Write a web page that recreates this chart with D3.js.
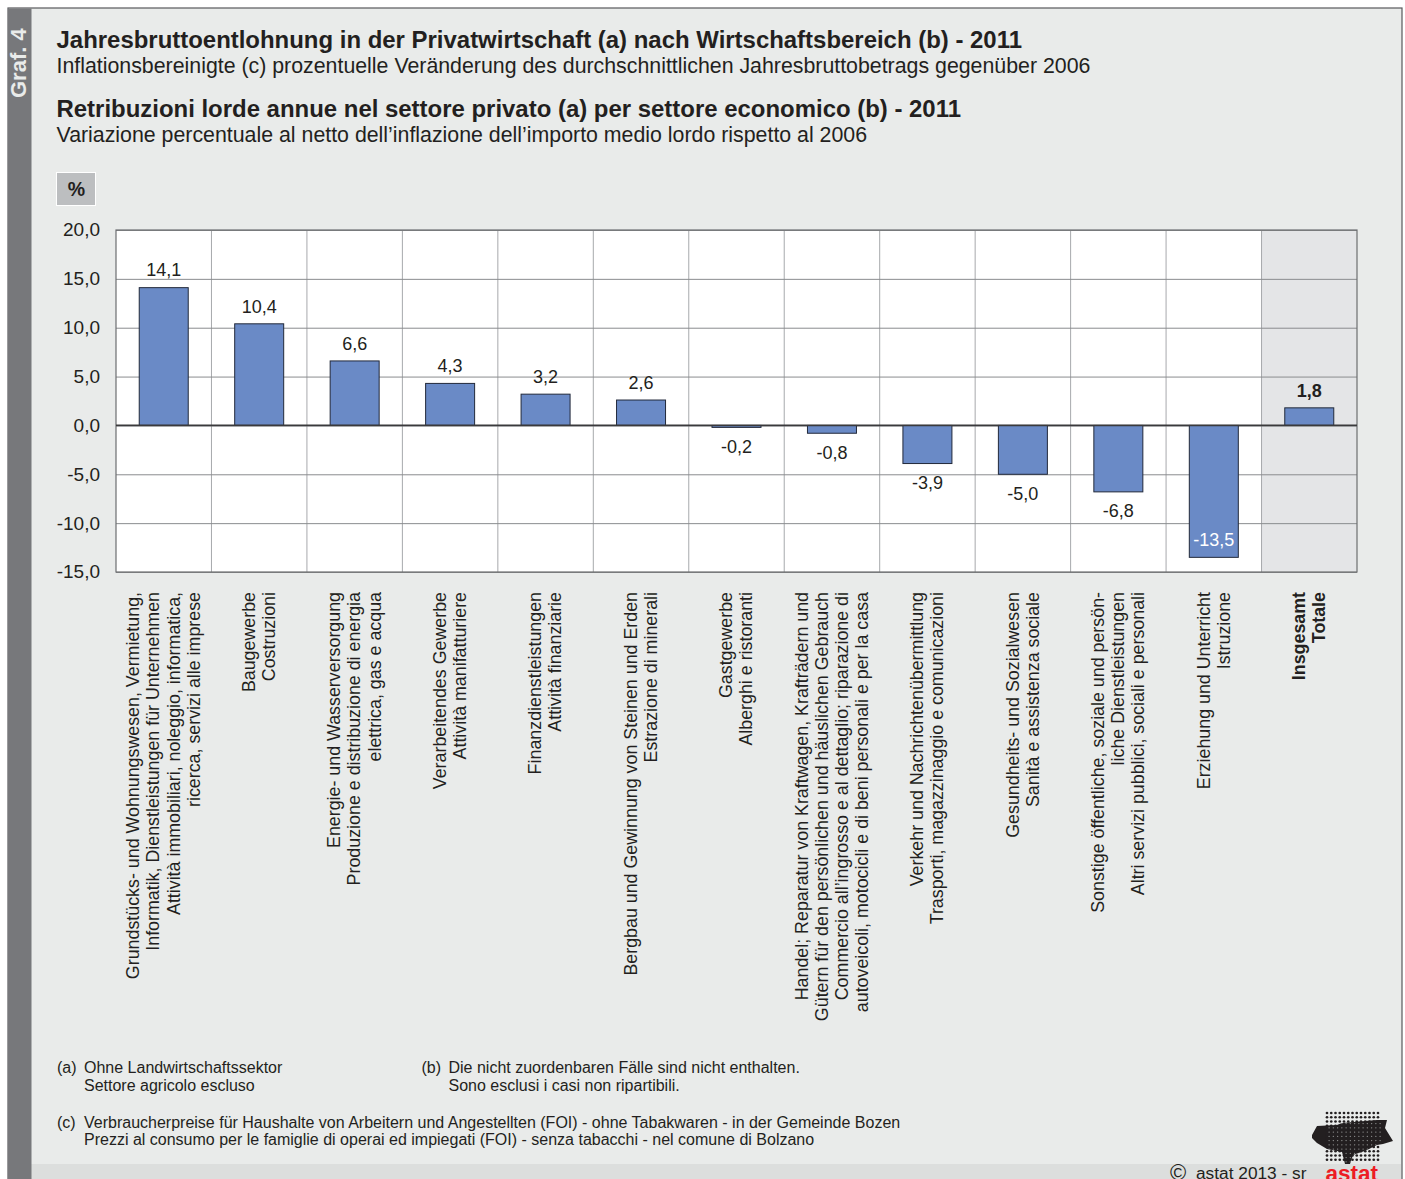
<!DOCTYPE html>
<html>
<head>
<meta charset="utf-8">
<script src="https://cdn.jsdelivr.net/npm/d3@7"></script>
<style>
html, body { margin: 0; padding: 0; background: #fff; overflow: hidden; }
svg { display: block; font-family: "Liberation Sans", Arial, sans-serif; }
</style>
</head>
<body>
<svg id="chart" width="1405" height="1179"></svg>
<script>
// chart data
const categories = [
  ['Grundstücks- und Wohnungswesen, Vermietung,', 'Informatik, Dienstleistungen für Unternehmen', 'Attività immobiliari, noleggio, informatica,', 'ricerca, servizi alle imprese'],
  ['Baugewerbe', 'Costruzioni'],
  ['Energie- und Wasserversorgung', 'Produzione e distribuzione di energia', 'elettrica, gas e acqua'],
  ['Verarbeitendes Gewerbe', 'Attività manifatturiere'],
  ['Finanzdienstleistungen', 'Attività finanziarie'],
  ['Bergbau und Gewinnung von Steinen und Erden', 'Estrazione di minerali'],
  ['Gastgewerbe', 'Alberghi e ristoranti'],
  ['Handel; Reparatur von Kraftwagen, Krafträdern und', 'Gütern für den persönlichen und häuslichen Gebrauch', 'Commercio all’ingrosso e al dettaglio; riparazione di', 'autoveicoli, motocicli e di beni personali e per la casa'],
  ['Verkehr und Nachrichtenübermittlung', 'Trasporti, magazzinaggio e comunicazioni'],
  ['Gesundheits- und Sozialwesen', 'Sanità e assistenza sociale'],
  ['Sonstige öffentliche, soziale und persön-', 'liche Dienstleistungen', 'Altri servizi pubblici, sociali e personali'],
  ['Erziehung und Unterricht', 'Istruzione'],
  ['Insgesamt', 'Totale']
]
const values = [14.1, 10.4, 6.6, 4.3, 3.2, 2.6, -0.2, -0.8, -3.9, -5.0, -6.8, -13.5, 1.8]
const yTicks = [20, 15, 10, 5, 0, -5, -10, -15]

const svg = d3.select('#chart')
// german/italian number format with a plain hyphen as in the original
const comma = d => d3.format('.1f')(Math.abs(d)).replace('.', ',').replace(/^/, d < 0 ? '-' : '')
const ink = '#231f20'

// plot area
const plot = { left: 116, right: 1357, top: 230, bottom: 572 }

const xScale = d3.scaleBand()
  .domain(d3.range(categories.length))
  .range([plot.left, plot.right])

const yScale = d3.scaleLinear()
  .domain([-15, 20])
  .range([plot.bottom, plot.top])

// page background and frame
svg.append('rect').attr('x', 8).attr('y', 8).attr('width', 1394).attr('height', 1180)
  .attr('fill', '#e9ebea').attr('stroke', '#58595b').attr('stroke-width', 1.2)
svg.append('rect').attr('x', 31).attr('y', 1164).attr('width', 1370).attr('height', 20).attr('fill', '#dcdedd')
svg.append('rect').attr('x', 8).attr('y', 8.5).attr('width', 23.5).attr('height', 1180).attr('fill', '#77787b')

svg.append('text')
  .attr('transform', 'translate(26,98) rotate(-90)')
  .attr('fill', '#e9ebea')
  .style('font-size', '22px')
  .style('font-weight', 'bold')
  .text('Graf. 4')

// titles
const titles = [
  { text: 'Jahresbruttoentlohnung in der Privatwirtschaft (a) nach Wirtschaftsbereich (b) - 2011', y: 48, bold: true },
  { text: 'Inflationsbereinigte (c) prozentuelle Veränderung des durchschnittlichen Jahresbruttobetrags gegenüber 2006', y: 73, bold: false },
  { text: 'Retribuzioni lorde annue nel settore privato (a) per settore economico (b) - 2011', y: 117, bold: true },
  { text: 'Variazione percentuale al netto dell’inflazione dell’importo medio lordo rispetto al 2006', y: 142, bold: false }
]
svg.selectAll('text.title')
  .data(titles)
  .enter()
  .append('text')
    .attr('class', 'title')
    .attr('x', 56.5)
    .attr('y', d => d.y)
    .attr('fill', ink)
    .style('font-size', d => d.bold ? '23.95px' : '21.33px')
    .style('font-weight', d => d.bold ? 'bold' : 'normal')
    .text(d => d.text)

// unit box
svg.append('rect').attr('x', 56.5).attr('y', 172.5).attr('width', 39).attr('height', 33)
  .attr('fill', '#bcbec0').attr('stroke', '#fff').attr('stroke-width', 1)
svg.append('text').attr('x', 76.5).attr('y', 196).attr('text-anchor', 'middle')
  .attr('fill', ink).style('font-size', '19.5px').style('font-weight', 'bold').text('%')

// plot background, last band is the total
svg.append('rect')
  .attr('x', plot.left).attr('y', plot.top)
  .attr('width', plot.right - plot.left).attr('height', plot.bottom - plot.top)
  .attr('fill', '#fff')
svg.append('rect')
  .attr('x', xScale(12)).attr('y', plot.top)
  .attr('width', xScale.bandwidth()).attr('height', plot.bottom - plot.top)
  .attr('fill', '#e4e5e7')

// vertical separators between categories
svg.selectAll('line.vgrid')
  .data(d3.range(1, categories.length))
  .enter()
  .append('line')
    .attr('class', 'vgrid')
    .attr('x1', d => xScale(d)).attr('x2', d => xScale(d))
    .attr('y1', plot.top).attr('y2', plot.bottom)
    .attr('stroke', '#a7a9ac').attr('stroke-width', 1)

// y axis with horizontal grid
const yAxis = d3.axisLeft(yScale)
  .tickValues(yTicks)
  .tickFormat(comma)
  .tickSize(-(plot.right - plot.left))
  .tickPadding(16)

const yAxisG = svg.append('g')
  .attr('transform', `translate(${plot.left}, 0)`)
  .call(yAxis)
yAxisG.select('path.domain').remove()
yAxisG.selectAll('.tick line').attr('stroke', '#8a8c8e').attr('stroke-width', 1)
yAxisG.selectAll('.tick text')
  .attr('fill', ink)
  .attr('dy', '0.31em')
  .style('font-size', '19px')
  .style('font-family', '"Liberation Sans", Arial, sans-serif')

// plot border
svg.append('rect')
  .attr('x', plot.left).attr('y', plot.top)
  .attr('width', plot.right - plot.left).attr('height', plot.bottom - plot.top)
  .attr('fill', 'none').attr('stroke', '#6d6e71').attr('stroke-width', 1.2)

// bars
const barWidth = 49
svg.selectAll('rect.bar')
  .data(values)
  .enter()
  .append('rect')
    .attr('class', 'bar')
    .attr('x', (d, i) => xScale(i) + (xScale.bandwidth() - barWidth) / 2)
    .attr('y', d => yScale(Math.max(d, 0)))
    .attr('width', barWidth)
    .attr('height', d => Math.abs(yScale(d) - yScale(0)))
    .attr('fill', '#6a8ac6')
    .attr('stroke', '#22293a')
    .attr('stroke-width', 1)

// zero line
svg.append('line')
  .attr('x1', plot.left).attr('x2', plot.right)
  .attr('y1', yScale(0)).attr('y2', yScale(0))
  .attr('stroke', '#3a3a3c').attr('stroke-width', 1.8)

// value labels
svg.selectAll('text.value')
  .data(values)
  .enter()
  .append('text')
    .attr('class', 'value')
    .attr('x', (d, i) => xScale(i) + xScale.bandwidth() / 2)
    .attr('y', d => d >= 0 ? yScale(d) - 11.2 : (d < -10 ? yScale(d) - 11 : yScale(d) + 25.5))
    .attr('text-anchor', 'middle')
    .attr('fill', d => d < -10 ? '#fff' : ink)
    .style('font-size', '18px')
    .style('font-weight', (d, i) => i === 12 ? 'bold' : 'normal')
    .text(comma)

// rotated category labels, several lines each
const lineGap = 20.1
const catLabels = svg.selectAll('g.cat')
  .data(categories)
  .enter()
  .append('g')
    .attr('class', 'cat')
    .attr('transform', (d, i) => `translate(${xScale(i) + xScale.bandwidth() / 2}, 592) rotate(-90)`)
catLabels.selectAll('text')
  .data((d, i) => d.map((t, k) => ({ t, k, n: d.length, total: i === 12 })))
  .enter()
  .append('text')
    .attr('x', 0)
    .attr('y', d => (d.k - (d.n - 1) / 2) * lineGap + 5.8)
    .attr('text-anchor', 'end')
    .attr('fill', ink)
    .style('font-size', '17.83px')
    .style('font-weight', d => d.total ? 'bold' : 'normal')
    .text(d => d.t)

// footnotes
const notes = [
  { mark: '(a)', x: 57, y: 1073, lines: ['Ohne Landwirtschaftssektor', 'Settore agricolo escluso'] },
  { mark: '(b)', x: 421.5, y: 1073, lines: ['Die nicht zuordenbaren Fälle sind nicht enthalten.', 'Sono esclusi i casi non ripartibili.'] },
  { mark: '(c)', x: 57, y: 1128, lines: ['Verbraucherpreise für Haushalte von Arbeitern und Angestellten (FOI) - ohne Tabakwaren - in der Gemeinde Bozen', 'Prezzi al consumo per le famiglie di operai ed impiegati (FOI) - senza tabacchi - nel comune di Bolzano'] }
]
notes.forEach(n => {
  svg.append('text').attr('x', n.x).attr('y', n.y).attr('fill', ink).style('font-size', '16px').text(n.mark)
  n.lines.forEach((l, i) => {
    svg.append('text').attr('x', n.x + 27).attr('y', n.y + i * 18 - (n.mark === '(c)' ? i : 0))
      .attr('fill', ink).style('font-size', '16px').text(l)
  })
})

// copyright and logo, cut by the page bottom like the original
svg.append('text').attr('x', 1178).attr('y', 1180).attr('text-anchor', 'middle')
  .attr('fill', ink).style('font-size', '22px').text('©')
svg.append('text').attr('x', 1196).attr('y', 1179).attr('fill', ink).style('font-size', '17.3px').text('astat 2013 - sr')
svg.append('text').attr('x', 1325.5).attr('y', 1181).attr('fill', '#ed1c24')
  .style('font-size', '22.5px').style('font-weight', 'bold').text('astat')

const logoShape = 'M1312 1135 L1317 1126 L1337 1125 L1342 1123 L1377 1120 L1387 1120 L1385 1128 L1393 1141 L1383 1144 L1377 1145 L1367 1150 L1353 1155 L1350 1164 L1345 1164 L1342 1152 L1327 1149 L1317 1143 L1312 1138 Z'
svg.append('clipPath').attr('id', 'logoClip').append('path').attr('d', logoShape)
svg.append('path').attr('d', logoShape).attr('fill', ink)

const dotX = d3.range(1327, 1379, 4.25)
const dotY = d3.range(1113, 1164, 4.25)
const logoDots = svg.append('g')
const logoHoles = svg.append('g').attr('clip-path', 'url(#logoClip)')
dotY.forEach(y => dotX.forEach(x => {
  logoDots.append('circle').attr('cx', x).attr('cy', y).attr('r', 1.35).attr('fill', ink)
  logoHoles.append('circle').attr('cx', x + 2.1).attr('cy', y + 2.1).attr('r', 0.7).attr('fill', '#8f9090')
}))
</script>
</body>
</html>
